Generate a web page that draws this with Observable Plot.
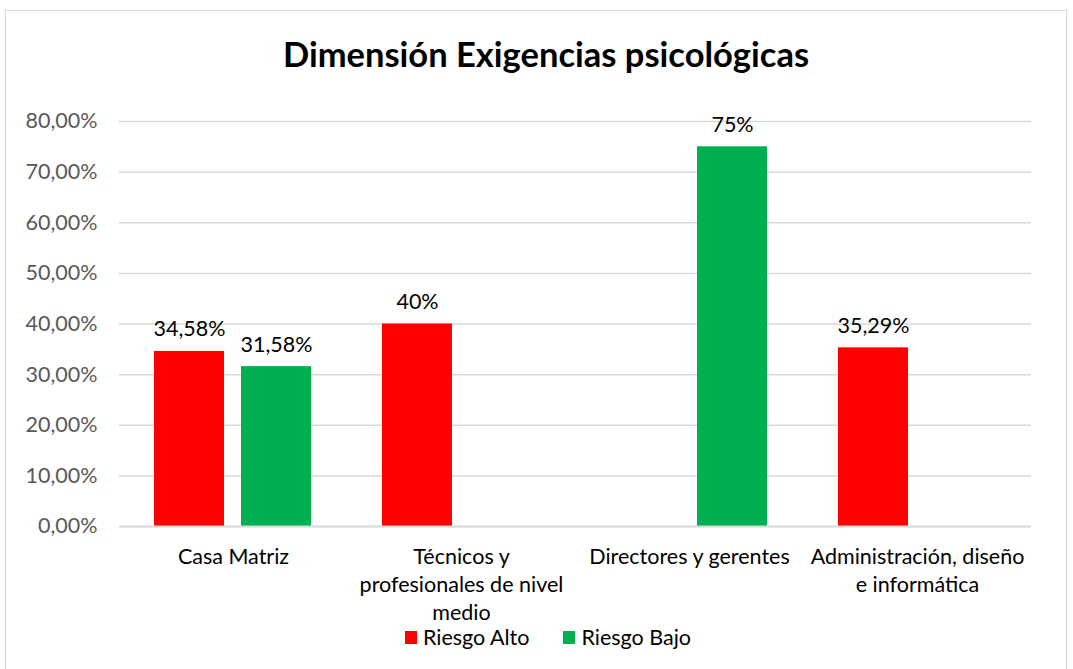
<!DOCTYPE html>
<html>
<head>
<meta charset="utf-8">
<script src="https://cdn.jsdelivr.net/npm/d3@7"></script>
<script src="https://cdn.jsdelivr.net/npm/@observablehq/plot@0.6"></script>
<style>
  html, body { margin: 0; padding: 0; background: #fff; width: 1073px; height: 669px; overflow: hidden; }
  body { font-family: Lato, "Liberation Sans", sans-serif; position: relative; }
  #frame { position: absolute; left: 5px; top: 10px; width: 1062px; height: 680px; border: 1px solid #d9d9d9; box-sizing: border-box; }
  #title { position: absolute; left: 0; top: 29px; width: 1092px; height: 50px; line-height: 50px; text-align: center; font-weight: bold; font-size: 34.5px; color: #000; }
  #chart { position: absolute; left: 0; top: 100px; }
  #legend { position: absolute; left: 0; top: 626px; width: 1096px; display: flex; justify-content: center; gap: 34px; font-size: 21.5px; line-height: 22px; color: #000; }
  .sw { display: inline-flex; align-items: center; gap: 6px; }
  .sw i { display: inline-block; width: 12px; height: 13px; }
</style>
</head>
<body>
<div id="frame"></div>
<div id="title">Dimensión Exigencias psicológicas</div>
<div id="chart"></div>
<div id="legend"></div>
<script>
const categorias = ["Casa Matriz", "Técnicos y profesionales de nivel medio", "Directores y gerentes", "Administración, diseño e informática"];
const etiquetasEje = ["Casa Matriz", "Técnicos y\nprofesionales de nivel\nmedio", "Directores y gerentes", "Administración, diseño\ne informática"];
const series = ["Riesgo Alto", "Riesgo Bajo"];
const colores = ["#ff0000", "#00b050"];
const riesgoAlto = [34.58, 40, null, 35.29];
const riesgoBajo = [31.58, null, 75, null];
const etiquetasAlto = ["34,58%", "40%", null, "35,29%"];
const etiquetasBajo = ["31,58%", null, "75%", null];
const yTicks = [0, 10, 20, 30, 40, 50, 60, 70, 80];

const datos = [];
categorias.forEach((c, i) => {
  if (riesgoAlto[i] != null) datos.push({categoria: c, serie: series[0], valor: riesgoAlto[i], etiqueta: etiquetasAlto[i]});
  if (riesgoBajo[i] != null) datos.push({categoria: c, serie: series[1], valor: riesgoBajo[i], etiqueta: etiquetasBajo[i]});
});

const fuente = "Lato, 'Liberation Sans', sans-serif";
const fs = 21.5;

const chart = Plot.plot({
  width: 1073,
  height: 531,
  marginLeft: 118,
  marginRight: 41,
  marginTop: 21,
  marginBottom: 105,
  style: {fontFamily: fuente, fontSize: fs + "px", background: "transparent"},
  fx: {domain: categorias, padding: 0, axis: null},
  x: {domain: series, paddingInner: 0.193, paddingOuter: 0.397, axis: null},
  y: {domain: [0, 80], axis: null},
  color: {domain: series, range: colores},
  marks: [
    Plot.gridY(yTicks, {stroke: "#d9d9d9", strokeOpacity: 1, strokeWidth: 1.5}),
    Plot.axisY({ticks: yTicks, tickSize: 0, tickPadding: 22, fontSize: fs, fill: "#595959", label: null,
      tickFormat: d => d.toFixed(2).replace(".", ",") + "%"}),
    Plot.barY(datos, {fx: "categoria", x: "serie", y: "valor", fill: "serie"}),
    Plot.ruleY([0], {stroke: "#d9d9d9", strokeWidth: 2}),
    Plot.text(datos, {fx: "categoria", x: "serie", y: "valor", text: "etiqueta", lineAnchor: "bottom", dy: -15, fontSize: fs, fill: "#000"}),
    Plot.axisFx({anchor: "bottom", tickSize: 0, tickPadding: 18, fontSize: fs, fill: "#000", lineHeight: 1.3,
      tickFormat: d => etiquetasEje[categorias.indexOf(d)], label: null})
  ]
});
document.getElementById("chart").appendChild(chart);

const legend = document.getElementById("legend");
series.forEach((s, i) => {
  const span = document.createElement("span");
  span.className = "sw";
  const sw = document.createElement("i");
  sw.style.background = colores[i];
  span.appendChild(sw);
  span.appendChild(document.createTextNode(s));
  legend.appendChild(span);
});
</script>
</body>
</html>
